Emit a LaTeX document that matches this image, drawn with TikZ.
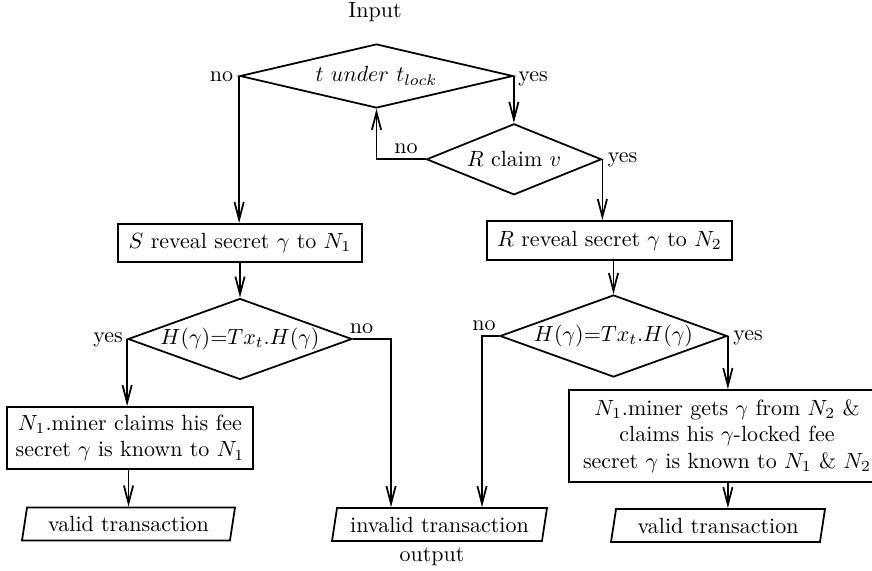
\documentclass[tikz,border=0pt]{standalone}
\usetikzlibrary{shapes.geometric,arrows.meta,calc}
\def\pxu{0.4545pt}
\begin{document}
\begin{tikzpicture}[x=0.4545pt,y=-0.4545pt,
  conn/.style={line width=0.8pt,-{Straight Barb[length=8pt,width=4.2pt,line width=0.8pt]}},
  dec/.style={diamond,draw,line width=0.8pt,inner sep=-2pt},
  stepbox/.style={rectangle,draw,line width=0.8pt,align=center,inner sep=0pt},
  io/.style={trapezium,trapezium left angle=72,trapezium right angle=108,trapezium stretches body,draw,line width=0.8pt,inner sep=0pt,minimum height=33*\pxu},
  lbl/.style={anchor=base,inner sep=0pt}]
\useasboundingbox (0,0) rectangle (872,570);
% title texts
\node[lbl] (input) at (375,17) {Input};
\node[lbl] (output) at (432,561) {output};
% decisions
\node[dec,aspect=4.27,minimum width=273*\pxu,minimum height=64*\pxu] (d1) at (376.5,76) {$t\ under\ t_{lock}$};
\node[dec,aspect=2.46,minimum width=175*\pxu,minimum height=71*\pxu] (d2) at (514,159.3) {$R$ claim $v$};
\node[dec,aspect=2.77,minimum width=224*\pxu,minimum height=81*\pxu] (d3) at (240,339) {$H(\gamma)$=$Tx_t.H(\gamma)$};
\node[dec,aspect=2.77,minimum width=227*\pxu,minimum height=82*\pxu] (d4) at (613.5,336) {$H(\gamma)$=$Tx_t.H(\gamma)$};
% process boxes
\node[stepbox,minimum width=244*\pxu,minimum height=38*\pxu] (bs) at (240,243) {$S$ reveal secret $\gamma$ to $N_1$};
\node[stepbox,minimum width=245*\pxu,minimum height=39*\pxu] (br) at (609.5,240.5) {$R$ reveal secret $\gamma$ to $N_2$};
\node[stepbox,minimum width=246*\pxu,minimum height=62*\pxu] (bn1) at (130,438) {$N_1$.miner claims his fee\\secret $\gamma$ is known to $N_1$};
\node[stepbox,minimum width=316*\pxu,minimum height=92*\pxu] (bn2) at (727,436) {$N_1$.miner gets $\gamma$ from $N_2$ \&\\claims his $\gamma$-locked fee\\secret $\gamma$ is known to $N_1$ \& $N_2$};
% outputs
\node[io,minimum width=213*\pxu] (v1) at (128.5,524) {valid transaction};
\node[io,minimum width=215*\pxu] (inv) at (439.5,524.5) {invalid transaction};
\node[io,minimum width=214*\pxu] (v3) at (718,525.5) {valid transaction};
% labels
\node[lbl] (no1) at (221.5,81) {no};
\node[lbl] (yes1) at (533,81) {yes};
\node[lbl] (no2) at (406,153) {no};
\node[lbl] (yes2) at (622.5,162.7) {yes};
\node[lbl] (yes3) at (108,342.7) {yes};
\node[lbl] (no3) at (361.5,333) {no};
\node[lbl] (no4) at (484,330) {no};
\node[lbl] (yes4) at (748,340.7) {yes};
% connectors
\draw[conn] (d1.east) -- (d1.east |- d2.north);
\draw[conn] (d2.west) -| (d1.south);
\draw[conn] (d1.west) -- (d1.west |- bs.north);
\draw[conn] (d2.east) -- (d2.east |- br.north);
\draw[conn] (bs.south) -- (d3.north);
\draw[conn] (d4.north |- br.south) -- (d4.north);
\draw[conn] (d3.west) -- (d3.west |- bn1.north);
\draw[conn] (d3.east) -| ([xshift=-48.5*\pxu]inv.north);
\draw[conn] (d4.west) -| ([xshift=42.5*\pxu]inv.north);
\draw[conn] (d4.east) -- (d4.east |- bn2.north);
\draw[conn] (v1.north |- bn1.south) -- (v1.north);
\draw[conn] (d4.east |- bn2.south) -- (d4.east |- v3.north);
\end{tikzpicture}
\end{document}
